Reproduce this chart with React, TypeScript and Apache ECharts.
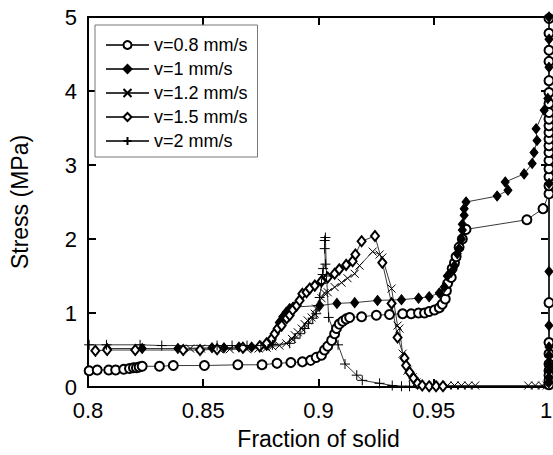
import React, { useEffect, useRef } from "react";
import * as echarts from "echarts";

const seriesNames = ["v=0.8 mm/s", "v=1 mm/s", "v=1.2 mm/s", "v=1.5 mm/s", "v=2 mm/s"];
const xTicks = { min: 0.8, max: 1, interval: 0.05 };
const yTicks = { min: 0, max: 5, interval: 1 };

const v08: number[][] = [
  [0.8005, 0.22], [0.804, 0.23], [0.809, 0.23], [0.812, 0.23], [0.8155, 0.24], [0.818, 0.25],
  [0.8197, 0.26], [0.821, 0.26], [0.8222, 0.27], [0.8235, 0.28], [0.831, 0.28], [0.837, 0.29],
  [0.8505, 0.29], [0.865, 0.3], [0.8755, 0.3], [0.882, 0.32], [0.888, 0.33], [0.893, 0.34],
  [0.8966, 0.36], [0.899, 0.4], [0.9013, 0.43], [0.9026, 0.5], [0.904, 0.55], [0.9057, 0.63],
  [0.907, 0.72], [0.9078, 0.79], [0.909, 0.85], [0.9105, 0.89], [0.912, 0.92], [0.9135, 0.94],
  [0.9187, 0.95], [0.9251, 0.97], [0.9308, 0.98], [0.9365, 0.99], [0.9402, 0.99], [0.9434, 1.0],
  [0.946, 1.0], [0.948, 1.02], [0.9503, 1.04], [0.9524, 1.07], [0.9537, 1.12], [0.955, 1.19],
  [0.9555, 1.3], [0.956, 1.4], [0.9576, 1.48], [0.958, 1.6], [0.959, 1.68], [0.9597, 1.76],
  [0.961, 1.89], [0.9624, 2.0], [0.964, 2.13], [0.9904, 2.26], [0.9974, 2.41],
  [1, 2.61], [1, 2.72], [1, 2.84], [1, 2.95], [1, 3.06], [1, 3.17], [1, 3.26], [1, 3.35],
  [1, 3.44], [1, 3.53], [1, 3.62], [1, 3.71], [1, 3.83], [1, 3.98], [1, 4.14], [1, 4.4],
  [1, 4.55], [1, 4.78], [1, 4.98], [1, 1.14], [1, 0.6], [1, 0.45], [1, 0.31], [1, 0.22],
  [1, 0.16], [1, 0.09], [1, 0.03],
];

const v1: number[][] = [
  [0.8083, 0.52], [0.8235, 0.52], [0.839, 0.52], [0.8538, 0.53], [0.859, 0.53], [0.8655, 0.54],
  [0.871, 0.54], [0.8775, 0.56], [0.8797, 0.63], [0.8815, 0.75], [0.883, 0.87], [0.8845, 0.95],
  [0.886, 1.01], [0.8875, 1.06], [0.889, 1.08], [0.9005, 1.1], [0.908, 1.13], [0.9157, 1.14],
  [0.9256, 1.17], [0.936, 1.18], [0.9434, 1.2], [0.948, 1.22], [0.9524, 1.27], [0.9546, 1.35],
  [0.9559, 1.5], [0.9576, 1.55], [0.959, 1.64], [0.9602, 1.8], [0.961, 1.87], [0.962, 2.0],
  [0.9624, 2.12], [0.9624, 2.2], [0.9632, 2.32], [0.9632, 2.41], [0.964, 2.5], [0.9775, 2.58],
  [0.9822, 2.66], [0.981, 2.77], [0.9892, 2.88], [0.9927, 3.02], [0.9935, 3.17], [0.9948, 3.33],
  [0.9944, 3.49], [0.9979, 3.74], [0.9995, 3.9], [1, 4.32], [1, 4.7], [1, 5.0], [1, 2.75],
  [1, 1.56], [1, 0.83], [1, 0.54], [1, 0.43], [1, 0.31], [1, 0.22], [1, 0.13], [1, 0.06],
];

const v12: number[][] = [
  [0.8443, 0.52], [0.849, 0.52], [0.857, 0.51], [0.8615, 0.51], [0.869, 0.51], [0.874, 0.52],
  [0.8775, 0.53], [0.88, 0.55], [0.883, 0.56], [0.886, 0.59], [0.8885, 0.65], [0.8897, 0.7],
  [0.891, 0.74], [0.8927, 0.79], [0.894, 0.85], [0.8953, 0.9], [0.897, 0.94], [0.8984, 0.99],
  [0.899, 1.06], [0.9013, 1.2], [0.9026, 1.27], [0.904, 1.28], [0.907, 1.35], [0.91, 1.41],
  [0.9126, 1.47], [0.9157, 1.53], [0.9178, 1.64], [0.9235, 1.83], [0.9265, 1.79], [0.9277, 1.75],
  [0.9317, 1.33], [0.9343, 0.83], [0.9351, 0.79], [0.9365, 0.45], [0.9386, 0.22], [0.9408, 0.13],
  [0.9425, 0.06], [0.944, 0.03], [0.947, 0.02], [0.95, 0.02], [0.953, 0.02], [0.956, 0.02],
  [0.959, 0.02], [0.962, 0.02], [0.965, 0.02], [0.968, 0.02], [0.991, 0.02], [0.994, 0.02],
  [0.997, 0.02], [0.999, 0.02],
];

const v15: number[][] = [
  [0.8032, 0.49], [0.8083, 0.5], [0.8205, 0.5], [0.8413, 0.5], [0.8486, 0.5], [0.856, 0.51],
  [0.8672, 0.53], [0.8745, 0.55], [0.8775, 0.59], [0.8797, 0.65], [0.881, 0.72], [0.8823, 0.79],
  [0.884, 0.83], [0.8862, 0.93], [0.8875, 0.97], [0.8888, 1.04], [0.8905, 1.1], [0.8918, 1.17],
  [0.893, 1.26], [0.8948, 1.28], [0.8962, 1.33], [0.8984, 1.37], [0.9013, 1.43], [0.904, 1.48],
  [0.907, 1.53], [0.909, 1.59], [0.912, 1.65], [0.9148, 1.7], [0.916, 1.79], [0.9187, 1.97],
  [0.9245, 2.04], [0.9277, 1.68], [0.9317, 1.13], [0.9343, 0.67], [0.9373, 0.39], [0.938, 0.29],
  [0.9395, 0.2], [0.9412, 0.12], [0.943, 0.05], [0.945, 0.02], [0.948, 0.01], [0.951, 0.01],
  [0.954, 0.01],
];

const v2: number[][] = [
  [0.8005, 0.57], [0.808, 0.57], [0.8226, 0.57], [0.832, 0.56], [0.856, 0.56], [0.8625, 0.56],
  [0.869, 0.56], [0.875, 0.56], [0.88, 0.57], [0.8875, 0.59], [0.8897, 0.66], [0.892, 0.72],
  [0.894, 0.79], [0.8957, 0.86], [0.8975, 0.93], [0.899, 0.99], [0.9, 1.1], [0.9005, 1.21],
  [0.9013, 1.4], [0.9018, 1.52], [0.902, 1.6], [0.903, 1.66], [0.9027, 1.87], [0.9027, 1.98],
  [0.903, 2.02], [0.9035, 1.5], [0.9044, 0.94], [0.9085, 0.57], [0.9115, 0.31], [0.9166, 0.16],
  [0.919, 0.09], [0.9265, 0.05], [0.932, 0.02], [0.936, 0.01], [0.9395, 0.01],
];

const FONT = "'Liberation Sans', Arial, Helvetica, sans-serif";

export default function App() {
  const ref = useRef<HTMLDivElement>(null);
  useEffect(() => {
    if (!ref.current) return;
    const chart = echarts.init(ref.current, undefined, { renderer: "svg" });
    const lineStyle = { color: "#3a3a3a", width: 1 };
    const itemStyle = { color: "#000", borderColor: "#000", borderWidth: 1 };
    const mk = (name: string, data: number[][], symbol: string, size: any) => ({
      name,
      type: "line",
      data,
      symbol,
      symbolSize: size,
      showAllSymbol: true,
      clip: false,
      lineStyle,
      itemStyle,
      emphasis: { disabled: true },
      xAxisIndex: 0,
      yAxisIndex: 0,
    });
    const axisLine = { show: true, onZero: false, lineStyle: { color: "#000", width: 2 } };
    const axisTick = { show: true, inside: true, length: 8, lineStyle: { color: "#000", width: 2 } };
    const xFmt = (v: number) => {
      const s = String(parseFloat(v.toFixed(3)));
      return v >= 0.999 ? "{e|" + s + "}" : s;
    };
    chart.setOption({
      animation: false,
      backgroundColor: "#fff",
      color: ["#000"],
      grid: { left: 88, right: 4, top: 17, bottom: 68, containLabel: false, outerBoundsMode: "none" },
      legend: {
        orient: "vertical",
        left: 95,
        top: 25,
        itemWidth: 43,
        itemHeight: 10,
        itemGap: 6,
        padding: [11, 10, 7, 10],
        borderColor: "#777",
        borderWidth: 1,
        borderRadius: 0,
        backgroundColor: "#fff",
        textStyle: { fontFamily: FONT, fontSize: 18, color: "#000", lineHeight: 18 },
        data: seriesNames,
      },
      xAxis: [
        {
          type: "value",
          position: "bottom",
          ...xTicks,
          axisLine,
          axisTick,
          splitLine: { show: false },
          axisLabel: {
            fontFamily: FONT,
            fontSize: 22,
            color: "#000",
            margin: 12,
            formatter: xFmt,
            rich: { e: { fontFamily: FONT, fontSize: 22, color: "#000", padding: [0, 6, 0, 0] } },
          },
          name: "Fraction of solid",
          nameLocation: "middle",
          nameGap: 40,
          nameTextStyle: { fontFamily: FONT, fontSize: 23, color: "#000" },
        },
        {
          type: "value",
          position: "top",
          ...xTicks,
          axisLine,
          axisTick,
          splitLine: { show: false },
          axisLabel: { show: false },
        },
      ],
      yAxis: [
        {
          type: "value",
          position: "left",
          ...yTicks,
          axisLine,
          axisTick,
          splitLine: { show: false },
          axisLabel: { fontFamily: FONT, fontSize: 22, color: "#000", margin: 11 },
          name: "Stress (MPa)",
          nameLocation: "middle",
          nameGap: 57,
          nameTextStyle: { fontFamily: FONT, fontSize: 23, color: "#000" },
        },
        {
          type: "value",
          position: "right",
          ...yTicks,
          axisLine,
          axisTick,
          splitLine: { show: false },
          axisLabel: { show: false },
        },
      ],
      series: [
        mk(seriesNames[0], v08, "emptyCircle", 9),
        mk(seriesNames[1], v1, "diamond", [8, 10]),
        mk(seriesNames[2], v12, "path://M0,0L10,10M0,10L10,0", 8),
        mk(seriesNames[3], v15, "emptyDiamond", [8, 10]),
        mk(seriesNames[4], v2, "path://M5,0L5,10M0,5L10,5", 10),
      ],
    });
    return () => chart.dispose();
  }, []);
  return (
    <div
      ref={ref}
      style={{ position: "fixed", left: 0, top: 0, width: 553, height: 455 }}
    />
  );
}
